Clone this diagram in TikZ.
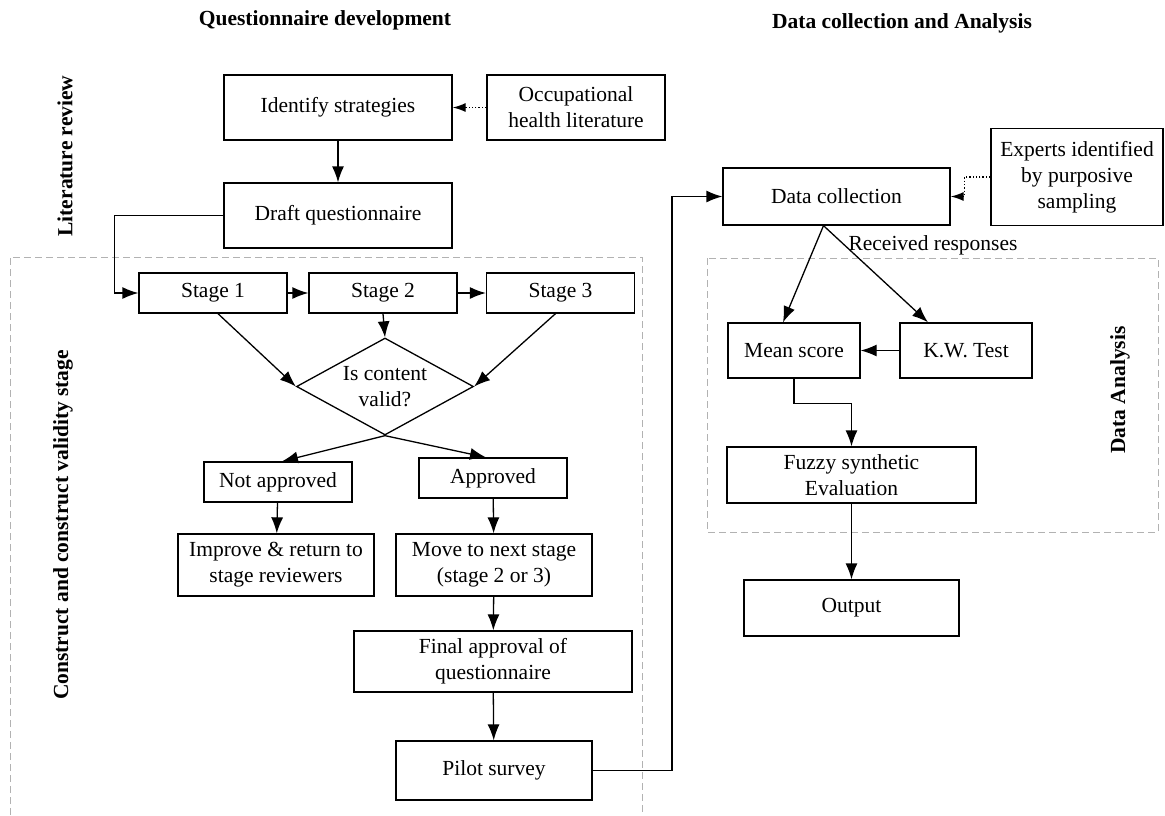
\documentclass[tikz,border=0pt]{standalone}
\usepackage{fontspec}
\setmainfont{Liberation Serif}
\usetikzlibrary{arrows.meta, shapes.geometric, positioning}
\newcommand{\figFont}{\fontsize{21.5}{26}\selectfont}
\tikzset{
    procBox/.style={rectangle, draw, line width=1.3pt, fill=white, align=center, inner sep=2pt, font=\figFont},
    decisionBox/.style={diamond, draw, line width=1.3pt, fill=white, align=center, inner sep=0pt, shape aspect=1.8, font=\figFont},
    flowEdge/.style={-{Latex[length=16pt, width=12pt]}, line width=1.3pt},
    feedEdge/.style={-{Latex[length=13pt, width=9pt]}, line width=1.3pt, dotted},
    groupFrame/.style={draw=gray!60, line width=1pt, dash pattern=on 7pt off 4pt},
    sideLabel/.style={font=\bfseries\figFont, rotate=90},
    headLabel/.style={font=\bfseries\figFont},
}
\newcommand{\drawFlow}[3][flowEdge]{
    \draw[#1] (#2) -- (#3);
}

\begin{document}
\begin{tikzpicture}[x=1pt, y=-1pt]
    \useasboundingbox (0,0) rectangle (1165,815);

    % group frames
    \draw[groupFrame] (10,815) -- (10,257) -- (642,257) -- (642,815);
    \draw[groupFrame] (707,258) rectangle (1158,532);

    % headings
    \node[headLabel] (headQuest) at (325,20) {Questionnaire development};
    \node[headLabel] (headData) at (902,23) {Data collection and Analysis};
    \node[sideLabel] (sideLit) at (65,156) {Literature review};
    \node[sideLabel] (sideCons) at (63,525) {Construct and construct validity stage};
    \node[sideLabel] (sideAna) at (1120,390) {Data Analysis};

    % questionnaire development
    \node[procBox, minimum width=228, minimum height=65] (ident) at (338,107.5) {Identify strategies};
    \node[procBox, minimum width=178, minimum height=65] (occLit) at (576,107.5) {Occupational\\health literature};
    \node[procBox, minimum width=228, minimum height=65] (draft) at (338,215.5) {Draft questionnaire};

    \node[procBox, minimum width=148, minimum height=40] (stage1) at (213,293) {Stage 1};
    \node[procBox, minimum width=148, minimum height=40] (stage2) at (383,293) {Stage 2};
    \node[procBox, minimum width=148, minimum height=40] (stage3) at (560.5,293) {Stage 3};

    \node[decisionBox, minimum width=177, minimum height=97] (valid) at (385,386.5) {Is content\\valid?};

    \node[procBox, minimum width=148, minimum height=40] (notAppr) at (278,482) {Not approved};
    \node[procBox, minimum width=148, minimum height=40] (appr) at (493,478) {Approved};
    \node[procBox, minimum width=196, minimum height=62] (improve) at (276,565) {Improve \& return to\\stage reviewers};
    \node[procBox, minimum width=196, minimum height=62] (moveNext) at (494,565) {Move to next stage\\(stage 2 or 3)};
    \node[procBox, minimum width=278, minimum height=61] (finalAppr) at (493,661.5) {Final approval of\\questionnaire};
    \node[procBox, minimum width=196, minimum height=59] (pilot) at (494,770.5) {Pilot survey};

    % data collection and analysis
    \node[procBox, minimum width=227, minimum height=57] (dataColl) at (836.5,196.5) {Data collection};
    \node[procBox, minimum width=172, minimum height=97] (experts) at (1077,177) {Experts identified\\by purposive\\sampling};
    \node[font=\figFont] (received) at (933,245) {Received responses};
    \node[procBox, minimum width=132, minimum height=55] (meanScore) at (794,350.5) {Mean score};
    \node[procBox, minimum width=132, minimum height=55] (kwTest) at (966,350.5) {K.W. Test};
    \node[procBox, minimum width=249, minimum height=56] (fuzzy) at (851.5,475) {Fuzzy synthetic\\Evaluation};
    \node[procBox, minimum width=215, minimum height=56] (output) at (851.5,608) {Output};

    % connectors
    \drawFlow{ident}{draft}
    \drawFlow[feedEdge]{occLit}{ident}
    \draw[flowEdge] (draft.west) -- ++(-109,0) |- (stage1.west);
    \drawFlow{stage1}{stage2}
    \drawFlow{stage2}{stage3}
    \drawFlow{[xshift=5pt]stage1.south}{valid.west}
    \drawFlow{stage2.south}{valid.north}
    \drawFlow{[xshift=-5pt]stage3.south}{valid.east}
    \drawFlow{valid.south}{[xshift=4pt]notAppr.north}
    \drawFlow{valid.south}{[xshift=-7pt]appr.north}
    \drawFlow{notAppr}{improve}
    \drawFlow{appr}{moveNext}
    \drawFlow{moveNext}{finalAppr}
    \drawFlow{finalAppr}{pilot}
    \draw[flowEdge] (pilot.east) -- (672,770.5) |- (dataColl.west);
    \draw[feedEdge] (experts.west) -- ++(-26,0) |- (dataColl.east);
    \drawFlow{[xshift=-13pt]dataColl.south}{[xshift=-11pt]meanScore.north}
    \drawFlow{[xshift=-13pt]dataColl.south}{[xshift=-38pt]kwTest.north}
    \drawFlow{kwTest}{meanScore}
    \draw[flowEdge] (meanScore.south) -- ++(0,25) -| (fuzzy.north);
    \drawFlow{fuzzy}{output}

\end{tikzpicture}
\end{document}
